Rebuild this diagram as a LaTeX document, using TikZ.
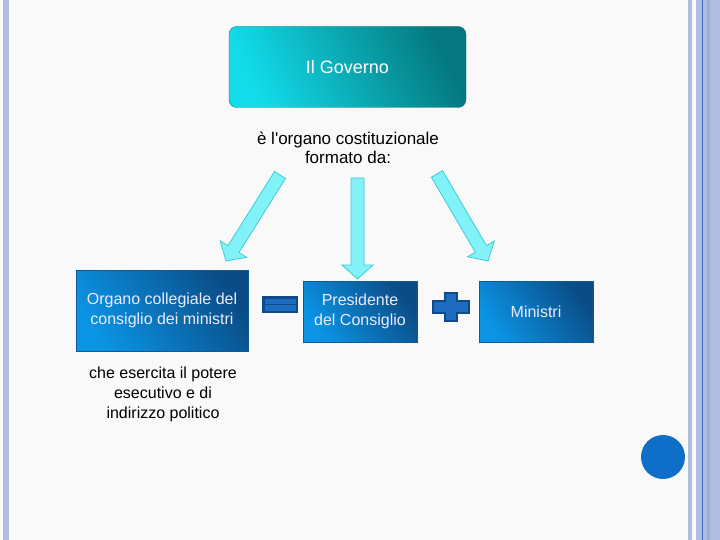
\documentclass[tikz,border=0pt]{standalone}
\usepackage{fontspec}
\setmainfont{Liberation Sans}
\usetikzlibrary{calc}
\definecolor{pagebg}{HTML}{F9F9F9}
\definecolor{stripe}{HTML}{B0BCE0}
\definecolor{stripedk}{HTML}{9EADD8}
\definecolor{stripeln}{HTML}{3A66C0}
\definecolor{govlight}{HTML}{12DCEA}
\definecolor{govdark}{HTML}{04787E}
\definecolor{boxlight}{HTML}{0B94E4}
\definecolor{boxdark}{HTML}{0A4C86}
\definecolor{boxedge}{HTML}{0A5A9C}
\definecolor{arrfill}{HTML}{80F2F8}
\definecolor{arredge}{HTML}{3CCCDC}
\definecolor{signdk}{HTML}{0D4A8A}
\definecolor{signlt}{HTML}{1E6CBF}
\definecolor{dotblue}{HTML}{0F6EC8}
% block arrow: #1 start, #2 tip
\newcommand{\blockarrow}[2]{%
  \coordinate (#1-h) at ($(#2)!14pt!(#1)$);
  \draw[barr] ($(#1)!6.5pt!90:(#2)$) -- ($(#1-h)!6.5pt!90:(#2)$)
    -- ($(#1-h)!15.5pt!90:(#2)$) -- (#2) -- ($(#1-h)!15.5pt!-90:(#2)$)
    -- ($(#1-h)!6.5pt!-90:(#2)$) -- ($(#1)!6.5pt!-90:(#2)$) -- cycle;}

\begin{document}
\begin{tikzpicture}[x=1pt, y=-1pt,
  box/.style={draw=boxedge, left color=boxlight, right color=boxdark, shading angle=125,
              align=center, text=white!92!blue, font=\fontsize{16}{20}\selectfont, inner sep=2pt},
  txt/.style={align=center, text=black, font=\fontsize{16}{20}\selectfont},
  barr/.style={draw=arredge, fill=arrfill, line width=0.8pt, line join=miter}]
% page
\fill[pagebg] (0,0) rectangle (720,540);
\useasboundingbox (0,0) rectangle (720,540);
\fill[stripe] (3,0) rectangle (9,540);
\fill[stripe] (688,0) rectangle (692,540);
\fill[stripe] (696,0) rectangle (720,540);
\fill[stripedk] (707,0) rectangle (710,540);
\draw[stripeln, line width=1pt] (702.5,0) -- (702.5,540);
\fill[dotblue] (663,457) circle (22);
% nodes
\node[draw=govdark, rounded corners=8pt, left color=govlight, right color=govdark, shading angle=115,
      minimum width=237pt, minimum height=81pt, text=white,
      font=\fontsize{18}{22}\selectfont] (gov) at (347.5,67) {Il Governo};
\node[txt, font=\fontsize{17}{19.5}\selectfont] (desc) at (348,148) {è l\textquotesingle organo costituzionale\\formato da:};
\node[box, minimum width=172pt, minimum height=81pt] (org) at (162,310.5) {Organo collegiale del\\consiglio dei ministri};
\node[box, minimum width=114pt, minimum height=61pt] (pres) at (360,311.5) {Presidente\\del Consiglio};
\node[box, minimum width=114pt, minimum height=61pt] (min) at (536,311.5) {Ministri};
\node[txt] (exec) at (163,394) {che esercita il potere\\esecutivo e di\\indirizzo politico};
% signs
\fill[signdk] (262,296) rectangle (298,313);
\fill[signlt] (264.5,298.5) rectangle (295.5,310.5);
\draw[signdk, line width=1.2pt] (264.5,304.5) -- (295.5,304.5);
\draw[signdk, fill=signlt, line width=2pt] (445,293) -- (457,293) -- (457,300.5) -- (469,300.5)
  -- (469,312.5) -- (457,312.5) -- (457,321) -- (445,321) -- (445,312.5) -- (433,312.5)
  -- (433,300.5) -- (445,300.5) -- cycle;
% arrows
\coordinate (al) at (280,175);
\coordinate (alt) at (226,261);
\coordinate (am) at (357.5,178);
\coordinate (amt) at (357.5,279);
\coordinate (ar) at (437,174);
\coordinate (art) at (488,261);
\blockarrow{al}{alt}
\blockarrow{am}{amt}
\blockarrow{ar}{art}
\end{tikzpicture}
\end{document}
